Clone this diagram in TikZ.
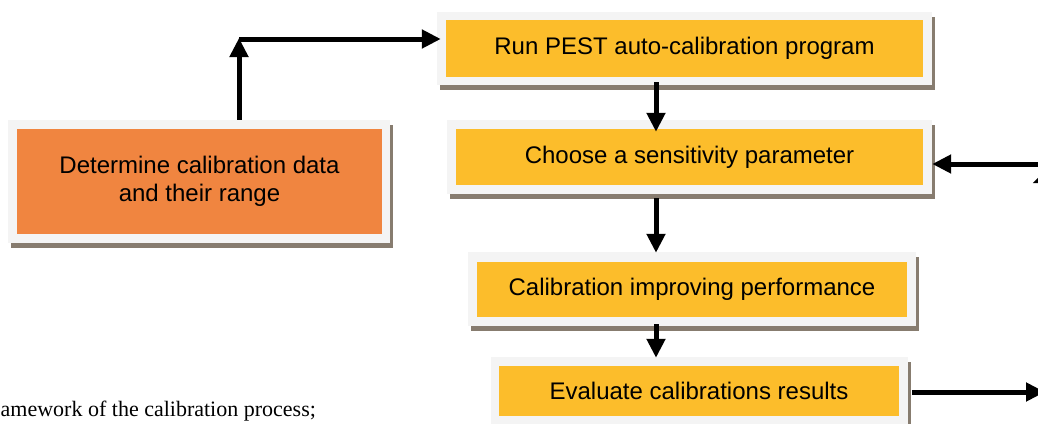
\documentclass[tikz,border=0pt]{standalone}
\usepackage{fontspec}
\setmainfont{Liberation Sans}
\newfontfamily\capfont{Liberation Serif}
\usetikzlibrary{arrows.meta}
\definecolor{framec}{HTML}{F4F4F4}
\definecolor{shadowc}{HTML}{877C6F}
\definecolor{orangec}{HTML}{F08540}
\definecolor{yellowc}{HTML}{FCBD2B}
\tikzset{
  framebox/.style={rectangle, inner sep=0pt, fill=framec,
    preaction={fill=shadowc, transform canvas={shift={(3pt,-5pt)}}}},
  innerbox/.style={rectangle, inner sep=0pt, align=center,
    font=\fontsize{24}{27.5}\selectfont},
  conn/.style={line width=5pt, -{Triangle[length=19pt,width=18pt]}},
}
\begin{document}
\begin{tikzpicture}[x=1pt,y=-1pt]
\useasboundingbox (0,0) rectangle (1038,423);
\begin{scope}
\clip (0,0) rectangle (1038,423);
% frames
\node[framebox, minimum width=382pt, minimum height=123pt] (Af) at (199,181.5) {};
\node[framebox, minimum width=495pt, minimum height=73pt] (Bf) at (684.5,48.5) {};
\node[framebox, minimum width=485pt, minimum height=74pt] (Cf) at (689.5,157) {};
\node[framebox, minimum width=448pt, minimum height=74pt] (Df) at (692,289) {};
\node[framebox, minimum width=417pt, minimum height=68pt] (Ef) at (699.5,391) {};
% inner boxes with text
\node[innerbox, fill=orangec, minimum width=365pt, minimum height=105pt] (A) at (199.5,181.5) {Determine calibration data\\and their range};
\node[innerbox, fill=yellowc, minimum width=477pt, minimum height=57pt] (B) at (684.5,48.5) {Run PEST auto-calibration program};
\node[innerbox, fill=yellowc, minimum width=467pt, minimum height=56pt] (C) at (689.5,157) {Choose a sensitivity parameter};
\node[innerbox, fill=yellowc, minimum width=430pt, minimum height=55pt] (D) at (692,289.5) {Calibration improving performance};
\node[innerbox, fill=yellowc, minimum width=400pt, minimum height=50pt] (E) at (699,391) {Evaluate calibrations results};
% helper coordinates
\coordinate (corner) at (239,39);
\coordinate (rin) at (1045,164);
\coordinate (rout) at (1045,392);
\coordinate (upfoot) at (1041,200);
\coordinate (uptip) at (1041,175);
% connectors
\draw[conn] (Af.north -| corner) -- ([yshift=1pt]corner);
\draw[conn] (corner) -- ([xshift=4pt]Bf.west |- corner);
\draw[conn] ([yshift=3pt]Bf.south -| 656,0) -- ([yshift=-3pt]C.north -| 656,0);
\draw[conn] ([yshift=-4pt]Cf.south -| 656,0) -- ([yshift=-1pt]Df.north -| 656,0);
\draw[conn] ([yshift=2pt]Df.south -| 656,0) -- ([yshift=-1pt]Ef.north -| 656,0);
\draw[conn] (rin) -- (Cf.east |- rin);
\draw[conn] ([xshift=4pt]Ef.east |- rout) -- (rout);
\draw[line width=5pt, -{Triangle[length=8pt,width=16pt]}] (upfoot) -- (uptip);
% caption fragment
\node[anchor=base west, inner sep=0pt, font=\capfont\fontsize{22}{25}\selectfont] (cap) at (0.5,416) {amework of the calibration process;};
\end{scope}
\end{tikzpicture}
\end{document}
